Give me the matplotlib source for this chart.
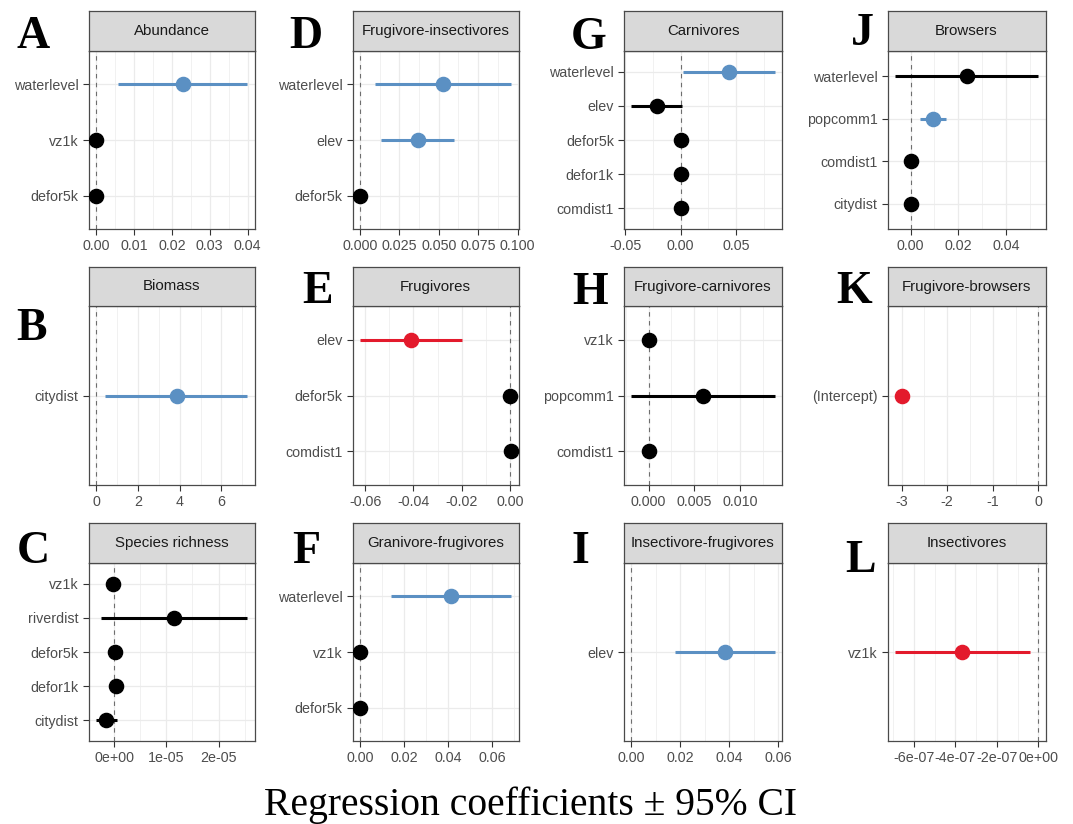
import matplotlib
matplotlib.use("Agg")
import matplotlib.pyplot as plt
import numpy as np

plt.rcParams['font.family'] = ['Liberation Sans', 'DejaVu Sans']

W, H = 1073, 824
DPI = 100

# ------------------------------------------------------------------ data
titles = ["Abundance", "Biomass", "Species richness",
          "Frugivore-insectivores", "Frugivores", "Granivore-frugivores",
          "Carnivores", "Frugivore-carnivores", "Insectivore-frugivores",
          "Browsers", "Frugivore-browsers", "Insectivores"]
letters = ["A", "B", "C", "D", "E", "F", "G", "H", "I", "J", "K", "L"]

terms_A = ["defor5k", "vz1k", "waterlevel"]
est_A = [0.0, 0.0, 0.0229]
lo_A = [0.0, 0.0, 0.0059]
hi_A = [0.0, 0.0, 0.0398]
sig_A = ["ns", "ns", "pos"]
ticks_A = [0.0, 0.01, 0.02, 0.03, 0.04]
tlab_A = ["0.00", "0.01", "0.02", "0.03", "0.04"]

terms_B = ["citydist"]
est_B = [3.86]
lo_B = [0.45]
hi_B = [7.22]
sig_B = ["pos"]
ticks_B = [0, 2, 4, 6]
tlab_B = ["0", "2", "4", "6"]

terms_C = ["citydist", "defor1k", "defor5k", "riverdist", "vz1k"]
est_C = [-0.16e-5, 0.027e-5, 0.013e-5, 1.143e-5, -0.02e-5]
lo_C = [-0.35e-5, 0.027e-5, 0.013e-5, -0.25e-5, -0.02e-5]
hi_C = [0.047e-5, 0.027e-5, 0.013e-5, 2.545e-5, -0.02e-5]
sig_C = ["ns", "ns", "ns", "ns", "ns"]
ticks_C = [0.0, 1e-5, 2e-5]
tlab_C = ["0e+00", "1e-05", "2e-05"]

terms_D = ["defor5k", "elev", "waterlevel"]
est_D = [0.0, 0.037, 0.0529]
lo_D = [0.0, 0.0136, 0.0098]
hi_D = [0.0, 0.0597, 0.0958]
sig_D = ["ns", "pos", "pos"]
ticks_D = [0.0, 0.025, 0.05, 0.075, 0.1]
tlab_D = ["0.000", "0.025", "0.050", "0.075", "0.100"]

terms_E = ["comdist1", "defor5k", "elev"]
est_E = [0.0003, 0.0, -0.0409]
lo_E = [0.0003, 0.0, -0.0621]
hi_E = [0.0003, 0.0, -0.0200]
sig_E = ["ns", "ns", "neg"]
ticks_E = [-0.06, -0.04, -0.02, 0.0]
tlab_E = ["-0.06", "-0.04", "-0.02", "0.00"]

terms_F = ["defor5k", "vz1k", "waterlevel"]
est_F = [0.0, 0.0, 0.0414]
lo_F = [0.0, 0.0, 0.0141]
hi_F = [0.0, 0.0, 0.0687]
sig_F = ["ns", "ns", "pos"]
ticks_F = [0.0, 0.02, 0.04, 0.06]
tlab_F = ["0.00", "0.02", "0.04", "0.06"]

terms_G = ["comdist1", "defor1k", "defor5k", "elev", "waterlevel"]
est_G = [0.0, 0.0, 0.0, -0.0214, 0.0434]
lo_G = [0.0, 0.0, 0.0, -0.0447, 0.0025]
hi_G = [0.0, 0.0, 0.0, 0.0009, 0.0852]
sig_G = ["ns", "ns", "ns", "ns", "pos"]
ticks_G = [-0.05, 0.0, 0.05]
tlab_G = ["-0.05", "0.00", "0.05"]

terms_H = ["comdist1", "popcomm1", "vz1k"]
est_H = [0.0, 0.0060, 0.0]
lo_H = [0.0, -0.0019, 0.0]
hi_H = [0.0, 0.0138, 0.0]
sig_H = ["ns", "ns", "ns"]
ticks_H = [0.0, 0.005, 0.01]
tlab_H = ["0.000", "0.005", "0.010"]

terms_I = ["elev"]
est_I = [0.0384]
lo_I = [0.0178]
hi_I = [0.0587]
sig_I = ["pos"]
ticks_I = [0.0, 0.02, 0.04, 0.06]
tlab_I = ["0.00", "0.02", "0.04", "0.06"]

terms_J = ["citydist", "comdist1", "popcomm1", "waterlevel"]
est_J = [0.0, 0.0, 0.0094, 0.0236]
lo_J = [0.0, 0.0, 0.0039, -0.0066]
hi_J = [0.0, 0.0, 0.0150, 0.0533]
sig_J = ["ns", "ns", "pos", "ns"]
ticks_J = [0.0, 0.02, 0.04]
tlab_J = ["0.00", "0.02", "0.04"]

terms_K = ["(Intercept)"]
est_K = [-3.0]
lo_K = [-3.15]
hi_K = [-2.86]
sig_K = ["neg"]
ticks_K = [-3, -2, -1, 0]
tlab_K = ["-3", "-2", "-1", "0"]

terms_L = ["vz1k"]
est_L = [-3.69e-7]
lo_L = [-6.92e-7]
hi_L = [-0.42e-7]
sig_L = ["neg"]
ticks_L = [-6e-7, -4e-7, -2e-7, 0.0]
tlab_L = ["-6e-07", "-4e-07", "-2e-07", "0e+00"]

xlabel = "Regression coefficients \u00b1 95% CI"

panels = [
    (terms_A, est_A, lo_A, hi_A, sig_A, ticks_A, tlab_A),
    (terms_B, est_B, lo_B, hi_B, sig_B, ticks_B, tlab_B),
    (terms_C, est_C, lo_C, hi_C, sig_C, ticks_C, tlab_C),
    (terms_D, est_D, lo_D, hi_D, sig_D, ticks_D, tlab_D),
    (terms_E, est_E, lo_E, hi_E, sig_E, ticks_E, tlab_E),
    (terms_F, est_F, lo_F, hi_F, sig_F, ticks_F, tlab_F),
    (terms_G, est_G, lo_G, hi_G, sig_G, ticks_G, tlab_G),
    (terms_H, est_H, lo_H, hi_H, sig_H, ticks_H, tlab_H),
    (terms_I, est_I, lo_I, hi_I, sig_I, ticks_I, tlab_I),
    (terms_J, est_J, lo_J, hi_J, sig_J, ticks_J, tlab_J),
    (terms_K, est_K, lo_K, hi_K, sig_K, ticks_K, tlab_K),
    (terms_L, est_L, lo_L, hi_L, sig_L, ticks_L, tlab_L),
]

# ------------------------------------------------------------------ style / layout
COLORS = {"ns": "black", "pos": "#5B90C3", "neg": "#E31A2C"}
col_x = [(88.5, 254.5), (352.5, 518.5), (624.0, 782.0), (887.5, 1045.5)]
row_y = [(11.0, 51.0, 229.0), (267.0, 306.0, 485.0), (523.0, 563.0, 741.0)]
# letter (left x, baseline y) in pixels
letter_pos = [(16.5, 48), (16.5, 340), (17, 563),
              (289, 48), (302, 303), (292, 563),
              (571, 49), (572, 304), (571.5, 563),
              (851, 45), (836, 303), (845, 572)]

BORDER = "#4A4A4A"
GRID = "#EBEBEB"

fig = plt.figure(figsize=(W / DPI, H / DPI), dpi=DPI)
fig.patch.set_facecolor("white")


def fx(px):
    return px / W


def fy(py):
    return 1 - py / H


for i, (terms, est, lo, hi, sig, ticks, tlab) in enumerate(panels):
    c, r = divmod(i, 3)
    x0, x1 = col_x[c]
    s0, s1, p1 = row_y[r]

    ax = fig.add_axes([fx(x0), fy(p1), (x1 - x0) / W, (p1 - s1) / H])
    sax = fig.add_axes([fx(x0), fy(s1), (x1 - x0) / W, (s1 - s0) / H])

    n = len(terms)
    yy = np.arange(1, n + 1)
    vals = list(lo) + list(hi) + list(est) + [0.0]
    vmin, vmax = min(vals), max(vals)
    rng = vmax - vmin
    xmin, xmax = vmin - 0.05 * rng, vmax + 0.05 * rng
    ax.set_xlim(xmin, xmax)
    ax.set_ylim(0.4, n + 0.6)

    step = ticks[1] - ticks[0]
    minors = np.arange(ticks[0] - step * 1.5, ticks[-1] + step * 1.6, step)
    minors = [m for m in minors if xmin <= m <= xmax]
    ax.set_xticks(minors, minor=True)
    ax.set_xticks(ticks)
    ax.set_xticklabels(tlab)
    ax.set_yticks(yy)
    ax.set_yticklabels(terms)

    ax.grid(which="major", color=GRID, lw=0.9, zorder=0)
    ax.grid(which="minor", axis="x", color=GRID, lw=0.5, zorder=0)
    ax.set_axisbelow(True)
    ax.axvline(0, color="#6E6E6E", lw=0.8, ls=(0, (4, 4)), zorder=1)

    for yv, e, l, h, s in zip(yy, est, lo, hi, sig):
        col = COLORS[s]
        ax.hlines(yv, l, h, color=col, lw=2.2, zorder=2)
        ax.plot([e], [yv], marker="o", ms=10.2, color=col, mec=col, zorder=3,
                linestyle="none")

    for sp in ax.spines.values():
        sp.set_color(BORDER)
        sp.set_linewidth(0.9)
    ax.tick_params(which="major", length=4.2, width=0.8, color="#333333",
                   labelsize=10.3, labelcolor="#4D4D4D", pad=3.0)
    ax.tick_params(which="minor", length=0)

    sax.set_facecolor("#D9D9D9")
    sax.set_xticks([])
    sax.set_yticks([])
    for sp in sax.spines.values():
        sp.set_color(BORDER)
        sp.set_linewidth(0.9)
    sax.text(0.5, 0.5, titles[i], ha="center", va="center", fontsize=10.8,
             color="#1A1A1A", transform=sax.transAxes)

    lx, ly = letter_pos[i]
    fig.text(fx(lx), fy(ly), letters[i], ha="left", va="baseline",
             fontsize=33, fontweight="bold", family="Liberation Serif",
             color="black")

fig.text(fx(531), fy(815), xlabel, ha="center", va="baseline", fontsize=28.5,
         family="Liberation Serif", color="black")

fig.savefig("out.png", dpi=DPI, facecolor="white")
